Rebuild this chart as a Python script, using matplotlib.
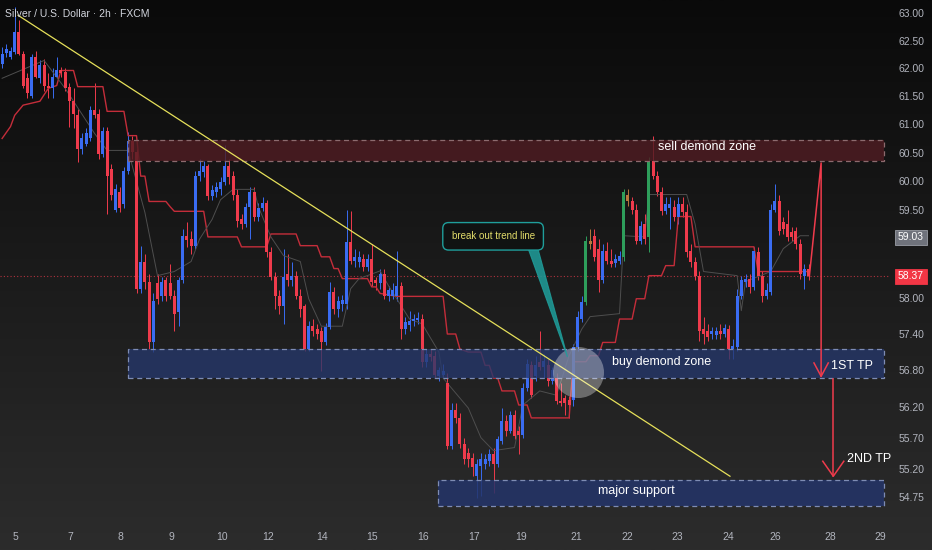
import matplotlib
matplotlib.use("Agg")
import matplotlib.pyplot as plt
import numpy as np
from matplotlib.patches import Rectangle, Polygon
from matplotlib.colors import LinearSegmentedColormap
from matplotlib.ticker import FixedLocator, FixedFormatter, NullLocator

FONT = ["Liberation Sans Narrow", "Liberation Sans", "DejaVu Sans"]

# XAG/USD 2h candles
opens = [62.08, 62.28, 62.21, 62.30, 62.65, 62.26, 61.82, 61.50, 62.21, 61.82,
         62.05, 61.69, 61.64, 61.85, 61.96, 61.94, 61.67, 61.41, 61.16, 60.57,
         60.66, 60.75, 61.25, 61.19, 60.48, 60.89, 60.22, 59.51, 59.82, 59.60,
         60.18, 60.71, 60.52, 58.16, 58.62, 58.28, 57.26, 58.25, 58.03, 58.30,
         58.25, 58.04, 57.77, 58.30, 59.06, 59.00, 58.89, 60.09, 60.16, 60.27,
         59.74, 59.82, 59.86, 59.98, 60.27, 60.09, 59.77, 59.34, 59.26, 59.56,
         59.82, 59.38, 59.54, 59.63, 58.79, 58.36, 58.03, 57.87, 58.41, 58.30,
         58.38, 58.04, 57.86, 57.15, 57.53, 57.48, 57.45, 57.26, 57.52, 58.11,
         57.82, 57.91, 57.91, 58.95, 58.63, 58.62, 58.67, 58.53, 58.67, 58.30,
         58.25, 58.41, 58.03, 58.04, 58.03, 58.21, 57.48, 57.55, 57.62, 57.63,
         57.65, 56.94, 57.07, 57.04, 56.70, 56.72, 56.59, 55.57, 56.15, 56.02,
         55.59, 55.46, 55.38, 55.09, 55.25, 55.27, 55.33, 55.43, 55.27, 55.65,
         55.97, 55.81, 56.06, 55.81, 55.75, 56.51, 56.88, 56.70, 56.94, 56.86,
         56.88, 56.63, 56.67, 56.30, 56.35, 56.31, 56.31, 57.18, 57.65, 57.94,
         58.97, 59.06, 58.84, 58.30, 58.80, 58.63, 58.60, 58.63, 58.70, 59.77,
         59.65, 59.51, 58.97, 59.26, 59.04, 60.36, 60.09, 59.82, 59.48, 59.54,
         59.56, 59.38, 59.60, 59.46, 58.80, 58.62, 58.38, 57.48, 57.45, 57.40,
         57.38, 57.45, 57.40, 57.48, 57.15, 57.18, 58.04, 58.28, 58.33, 58.19,
         58.79, 58.38, 58.04, 58.11, 59.51, 59.65, 59.29, 59.26, 59.12, 59.14,
         58.92, 58.38, 58.50]
highs = [62.39, 62.44, 62.39, 63.12, 62.88, 62.31, 61.91, 62.26, 62.31, 62.14,
         62.17, 61.91, 62.01, 62.21, 62.03, 62.01, 61.73, 61.64, 61.28, 60.84,
         60.93, 61.32, 61.73, 61.28, 60.96, 60.96, 60.30, 59.95, 59.90, 60.25,
         60.87, 60.80, 60.57, 58.89, 58.75, 58.41, 58.08, 58.41, 58.36, 58.36,
         58.58, 58.13, 58.36, 59.17, 59.29, 59.14, 60.18, 60.39, 60.36, 60.30,
         59.93, 59.98, 60.07, 60.63, 60.39, 60.18, 59.86, 59.43, 59.63, 59.90,
         59.90, 59.63, 59.72, 59.68, 58.87, 58.45, 58.13, 58.84, 58.75, 58.62,
         58.46, 58.16, 57.91, 57.62, 57.65, 57.57, 57.52, 57.58, 58.28, 58.19,
         58.03, 58.06, 59.51, 59.48, 58.84, 58.80, 58.75, 58.75, 58.92, 58.36,
         58.50, 58.50, 58.21, 58.25, 58.80, 58.28, 57.69, 57.79, 57.74, 57.76,
         57.74, 57.15, 57.15, 57.12, 56.86, 56.91, 56.75, 56.26, 56.26, 56.10,
         55.70, 55.54, 55.46, 55.35, 55.46, 55.43, 55.51, 55.54, 55.73, 56.18,
         56.06, 56.14, 56.15, 55.89, 56.59, 56.99, 56.96, 57.04, 57.45, 57.07,
         56.99, 56.86, 56.75, 56.59, 56.39, 56.38, 57.23, 57.79, 58.03, 59.06,
         59.17, 59.17, 59.00, 58.92, 58.95, 58.84, 58.75, 58.80, 59.86, 59.86,
         59.72, 59.60, 59.31, 59.43, 60.43, 60.79, 60.18, 59.90, 59.72, 59.72,
         59.68, 59.72, 59.72, 59.60, 58.92, 58.70, 58.46, 57.69, 57.57, 57.52,
         57.52, 57.57, 57.57, 57.55, 57.31, 58.16, 58.38, 58.41, 58.41, 58.87,
         58.87, 58.46, 58.25, 59.60, 59.95, 59.77, 59.38, 59.51, 59.21, 59.21,
         59.00, 58.58, 58.58]
lows = [62.01, 62.21, 62.17, 62.26, 62.23, 61.64, 61.46, 61.46, 61.82, 61.73,
        61.60, 61.46, 61.46, 61.82, 61.85, 61.60, 60.96, 60.93, 60.34, 60.48,
        60.61, 60.71, 61.11, 60.39, 60.43, 59.43, 59.68, 59.46, 59.46, 59.54,
        60.13, 60.39, 58.08, 58.08, 58.16, 57.15, 57.10, 57.91, 57.96, 57.96,
        57.99, 57.45, 57.53, 58.25, 58.87, 58.75, 58.84, 60.00, 60.07, 59.68,
        59.68, 59.72, 59.77, 59.93, 59.95, 59.68, 59.21, 59.17, 59.21, 59.00,
        59.31, 59.31, 59.48, 58.70, 58.30, 57.82, 57.74, 57.57, 58.21, 58.21,
        57.99, 57.69, 57.12, 57.12, 57.37, 57.31, 56.78, 57.21, 57.48, 57.74,
        57.69, 57.79, 57.82, 58.58, 58.53, 58.53, 58.46, 58.46, 58.21, 58.13,
        58.16, 57.99, 57.96, 57.99, 57.96, 57.31, 57.40, 57.45, 57.53, 57.57,
        56.86, 56.86, 56.96, 56.67, 56.63, 56.67, 55.51, 55.51, 55.94, 55.54,
        55.28, 55.22, 55.09, 54.73, 54.77, 55.19, 55.25, 54.82, 55.22, 55.60,
        55.73, 55.77, 55.67, 55.43, 55.70, 56.46, 56.35, 56.63, 56.80, 56.67,
        56.54, 56.57, 56.25, 56.22, 56.06, 56.02, 56.22, 57.12, 57.60, 57.89,
        58.84, 58.63, 58.11, 58.25, 58.57, 58.53, 58.53, 58.58, 58.63, 59.58,
        59.43, 58.92, 58.92, 58.92, 58.79, 60.04, 59.75, 59.41, 59.43, 59.17,
        59.31, 59.26, 59.38, 58.70, 58.53, 58.30, 57.28, 57.23, 57.28, 57.31,
        57.31, 57.31, 57.35, 56.99, 56.99, 57.12, 57.99, 58.19, 58.08, 58.13,
        58.30, 57.94, 57.99, 58.06, 59.46, 59.07, 59.09, 58.97, 58.97, 58.84,
        58.33, 58.16, 58.30]
closes = [62.26, 62.35, 62.31, 62.65, 62.26, 61.69, 61.55, 62.21, 61.85, 62.05,
          61.69, 61.64, 61.85, 61.96, 61.92, 61.64, 61.41, 61.19, 60.57, 60.75,
          60.84, 61.25, 61.16, 60.48, 60.89, 60.09, 59.77, 59.86, 59.54, 60.18,
          60.71, 60.52, 58.16, 58.62, 58.28, 57.26, 57.96, 57.99, 58.28, 58.03,
          58.04, 57.74, 58.30, 59.06, 58.99, 58.89, 60.09, 60.18, 60.27, 59.74,
          59.84, 59.90, 59.98, 60.27, 60.07, 59.77, 59.31, 59.26, 59.56, 59.81,
          59.38, 59.54, 59.63, 58.79, 58.36, 58.03, 57.87, 58.36, 58.30, 58.38,
          58.04, 57.82, 57.15, 57.53, 57.45, 57.40, 57.26, 57.52, 58.11, 57.82,
          57.96, 57.97, 58.95, 58.63, 58.70, 58.70, 58.53, 58.67, 58.28, 58.25,
          58.41, 58.03, 58.13, 58.13, 58.21, 57.48, 57.60, 57.62, 57.65, 57.67,
          56.94, 57.07, 57.02, 56.72, 56.80, 56.78, 55.57, 56.15, 56.02, 55.59,
          55.35, 55.35, 55.22, 55.27, 55.35, 55.35, 55.43, 55.27, 55.67, 55.97,
          55.81, 56.06, 55.73, 55.75, 56.51, 56.91, 56.39, 56.88, 56.86, 56.96,
          56.62, 56.80, 56.30, 56.26, 56.26, 56.23, 57.18, 57.69, 57.94, 58.97,
          58.92, 58.70, 58.30, 58.80, 58.63, 58.58, 58.67, 58.72, 59.81, 59.65,
          59.51, 58.97, 59.22, 59.00, 60.36, 60.09, 59.81, 59.48, 59.60, 59.60,
          59.38, 59.60, 59.46, 58.79, 58.62, 58.38, 57.45, 57.40, 57.35, 57.45,
          57.45, 57.40, 57.50, 57.15, 57.20, 58.04, 58.30, 58.33, 58.19, 58.80,
          58.38, 58.04, 58.13, 59.51, 59.65, 59.14, 59.17, 59.04, 59.04, 58.92,
          58.41, 58.50, 58.37]

green_bars = [139, 148, 154]
orange_bars = [140, 149]

# red stepped indicator line (vertices)
red_idx = [0, 2, 3, 5, 9, 11, 13, 14, 17, 18, 24, 25, 29, 30, 32, 33, 34, 35, 39, 40,
           41, 48, 49, 56, 57, 63, 64, 70, 71, 75, 76, 78, 79, 80, 81, 87, 88, 89, 90, 94,
           105, 106, 108, 109, 111, 114, 115, 116, 117, 118, 119, 122, 123, 125, 126, 135, 136, 139, 140, 142,
           143, 146, 147, 150, 151, 153, 154, 157, 158, 160, 161, 164, 165, 179, 180, 192]
red_val = [60.75, 60.96, 61.16, 61.34, 61.41, 61.64, 61.69, 61.96, 61.96, 61.67, 61.67, 61.23, 61.23, 60.80, 60.80, 60.09, 60.09, 59.65, 59.65, 59.56,
           59.48, 59.48, 59.04, 59.04, 58.87, 58.87, 59.09, 59.09, 58.89, 58.89, 58.70, 58.70, 58.50, 58.50, 58.33, 58.33, 58.19, 58.19, 58.08, 58.03,
           58.03, 57.40, 57.40, 57.15, 57.10, 57.10, 56.88, 56.88, 56.67, 56.67, 56.46, 56.46, 56.23, 56.23, 56.02, 56.02, 56.94, 56.94, 57.04, 57.04,
           57.26, 57.26, 57.65, 57.65, 57.99, 57.99, 58.38, 58.38, 58.55, 58.55, 59.39, 59.39, 58.87, 58.87, 58.45, 58.45]

# thin grey indicator line (vertices)
gray_idx = [0, 10, 15, 22, 25, 30, 34, 37, 41, 45, 47, 50, 52, 55, 60, 61, 64, 67, 71, 73,
            76, 81, 83, 85, 90, 92, 97, 100, 104, 105, 111, 114, 117, 122, 124, 128, 132, 135, 138, 140,
            147, 148, 153, 154, 163, 165, 167, 175, 176, 177, 183, 186, 190, 192]
gray_val = [61.82, 62.14, 61.64, 60.84, 60.54, 60.54, 59.46, 58.38, 58.45, 58.62, 59.00, 59.34, 59.68, 59.86, 59.86, 59.56, 59.04, 58.72, 58.62, 57.99,
            57.53, 57.53, 58.16, 58.33, 58.46, 58.21, 57.65, 57.57, 57.10, 56.67, 56.18, 55.70, 55.49, 55.54, 56.23, 56.46, 56.39, 57.04, 57.48, 57.69,
            57.74, 59.06, 59.04, 59.77, 59.77, 59.26, 58.45, 58.38, 57.79, 58.28, 58.45, 58.84, 59.06, 59.06]

price_ticks = [63.00, 62.50, 62.00, 61.50, 61.00, 60.50, 60.00, 59.50,
               58.00, 57.40, 56.80, 56.20, 55.70, 55.20, 54.75]
day_pos = [3.1, 16.2, 28.1, 40.2, 52.4, 63.3, 76.2, 88.1, 100.2, 112.4,
           123.6, 136.7, 148.8, 160.7, 172.9, 184.0, 197.1, 209.0]
day_lbl = ["5", "7", "8", "9", "10", "12", "14", "15", "16", "17",
           "19", "21", "22", "23", "24", "26", "28", "29"]

sell_zone = (60.35, 60.73)
buy_zone = (56.67, 57.15)
support_zone = (54.60, 55.02)
prev_close = 59.03
tp1 = 56.70
tp2 = 55.08

BLUE = "#3a6cf2"
RED = "#ef3b4c"
GREEN = "#2e9e5b"
ORANGE = "#b8773c"
TXT = "#b2b5be"

W, H = 932, 550
fig = plt.figure(figsize=(W / 100, H / 100), dpi=100)
fig.patch.set_facecolor("#161616")

# background gradient
bg = fig.add_axes([0, 0, 1, 1], zorder=0)
bg.axis("off")
grad = np.linspace(0, 1, 256).reshape(-1, 1)
bg.imshow(grad, aspect="auto", extent=[0, 1, 0, 1],
          cmap=LinearSegmentedColormap.from_list("bg", ["#0a0a0a", "#2c2c2c"]))

ax = fig.add_axes([0, 30 / H, 890 / W, 520 / H], zorder=1)
ax.patch.set_alpha(0)
ax.set_yscale("log")
ax.set_ylim(54.385, 63.24)
ax.set_xlim(-0.5, 211.4)
for s in ax.spines.values():
    s.set_visible(False)

o = np.array(opens)
h = np.array(highs)
l = np.array(lows)
c = np.array(closes)
idx = np.arange(len(o))
cols = [BLUE if c[i] >= o[i] else RED for i in idx]
for i in green_bars:
    cols[i] = GREEN
for i in orange_bars:
    cols[i] = ORANGE

ax.vlines(idx, l, h, colors=cols, lw=0.7, zorder=3)
body = np.maximum(np.abs(c - o), 0.02)
ax.bar(idx, body, bottom=np.minimum(o, c), width=0.68, color=cols, linewidth=0, zorder=4)

# indicator lines
ax.plot(red_idx, red_val, color="#c42d3a", lw=1.0, zorder=3.5)
ax.plot(gray_idx, gray_val, color="#4e4e4e", lw=0.7, zorder=3.5)

# last price dotted line
ax.axhline(closes[-1], color=RED, lw=0.8, ls=(0, (1, 2)), alpha=0.7, zorder=2)

# zones
zone_left, zone_right = 30, 210
ax.add_patch(Rectangle((zone_left, sell_zone[0]), zone_right - zone_left, sell_zone[1] - sell_zone[0],
                       fc="#4f1c22", alpha=0.82, ec="none", zorder=5))
ax.add_patch(Rectangle((zone_left, sell_zone[0]), zone_right - zone_left, sell_zone[1] - sell_zone[0],
                       fc="none", ec="#8c6a6e", lw=0.9, ls=(0, (4, 3)), zorder=5))
ax.add_patch(Rectangle((zone_left, buy_zone[0]), zone_right - zone_left, buy_zone[1] - buy_zone[0],
                       fc="#26386c", alpha=0.78, ec="none", zorder=5))
ax.add_patch(Rectangle((zone_left, buy_zone[0]), zone_right - zone_left, buy_zone[1] - buy_zone[0],
                       fc="none", ec="#7e8cb4", lw=0.9, ls=(0, (4, 3)), zorder=5))
ax.add_patch(Rectangle((103.8, support_zone[0]), zone_right - 103.8, support_zone[1] - support_zone[0],
                       fc="#24346a", alpha=0.85, ec="none", zorder=5))
ax.add_patch(Rectangle((103.8, support_zone[0]), zone_right - 103.8, support_zone[1] - support_zone[0],
                       fc="none", ec="#7e8cb4", lw=0.9, ls=(0, (4, 3)), zorder=5))

ax.text(167.9, 60.60, "sell demond zone", color="white", fontsize=9, family=FONT,
        ha="center", va="center", zorder=8)
ax.text(156.9, 56.94, "buy demond zone", color="white", fontsize=9, family=FONT,
        ha="center", va="center", zorder=8)
ax.text(150.9, 54.84, "major support", color="white", fontsize=9, family=FONT,
        ha="center", va="center", zorder=8)

# trend line
ax.plot([3.8, 173.3], [62.96, 55.08], color="#e6e05a", lw=0.9, zorder=6)

# breakout circle
ax.scatter([137], [56.77], s=1350, color="white", alpha=0.33, linewidths=0, zorder=7)

# callout
ax.add_patch(Polygon([[125.3, 58.83], [127.6, 58.83], [134.6, 57.02]], closed=True,
                     fc="#1f9e9b", ec="#1f9e9b", lw=0.8, alpha=0.85, zorder=7))
ax.text(116.9, 59.05, "break out trend line", color="#e2dc6a", fontsize=7, family=FONT,
        ha="center", va="center", zorder=8,
        bbox=dict(boxstyle="round,pad=0.9,rounding_size=0.6", fc="#101212", ec="#1f9e9b", lw=1.0))

# target arrows
ax.plot([192.2, 195.0, 195.0], [closes[-1], 60.32, tp1], color=RED, lw=1.1, zorder=8)
ax.plot([193.3, 195.0, 196.7], [56.92, tp1, 56.92], color=RED, lw=1.1, zorder=8)
ax.plot([197.9, 197.9], [56.65, tp2], color=RED, lw=1.1, zorder=8)
ax.plot([195.4, 197.9, 200.4], [55.32, tp2, 55.32], color=RED, lw=1.1, zorder=8)
ax.text(197.4, 56.87, "1ST TP", color="white", fontsize=9, family=FONT,
        ha="left", va="center", zorder=8)
ax.text(201.2, 55.36, "2ND TP", color="white", fontsize=9, family=FONT,
        ha="left", va="center", zorder=8)

# axes ticks
ax.yaxis.tick_right()
ax.yaxis.set_major_locator(FixedLocator(price_ticks))
ax.yaxis.set_major_formatter(FixedFormatter([f"{p:.2f}" for p in price_ticks]))
ax.yaxis.set_minor_locator(NullLocator())
ax.tick_params(axis="y", length=0, pad=6, labelsize=7.5, labelcolor=TXT)
ax.set_xticks(day_pos)
ax.set_xticklabels(day_lbl)
ax.tick_params(axis="x", length=0, pad=9, labelsize=7.5, labelcolor=TXT)
for t in ax.get_xticklabels() + ax.get_yticklabels():
    t.set_family(FONT)

ytr = ax.get_yaxis_transform()
ax.text(1.009, prev_close, f"{prev_close:.2f}", transform=ytr, color="white", fontsize=7.5,
        family=FONT, ha="left", va="center", zorder=9,
        bbox=dict(boxstyle="square,pad=0.25", fc="#6f727b", ec="#9a9da5", lw=0.6))
ax.text(1.009, closes[-1], f"{closes[-1]:.2f}", transform=ytr, color="white", fontsize=7.5,
        family=FONT, ha="left", va="center", zorder=9,
        bbox=dict(boxstyle="square,pad=0.25", fc="#f23645", ec="#f23645", lw=0.6))

fig.text(5 / W, 1 - 14 / H, "Silver / U.S. Dollar \u00b7 2h \u00b7 FXCM", color="#d1d4dc",
         fontsize=7.5, family=FONT, ha="left", va="center", zorder=10)

fig.savefig("out.png", dpi=100, facecolor=fig.get_facecolor())
